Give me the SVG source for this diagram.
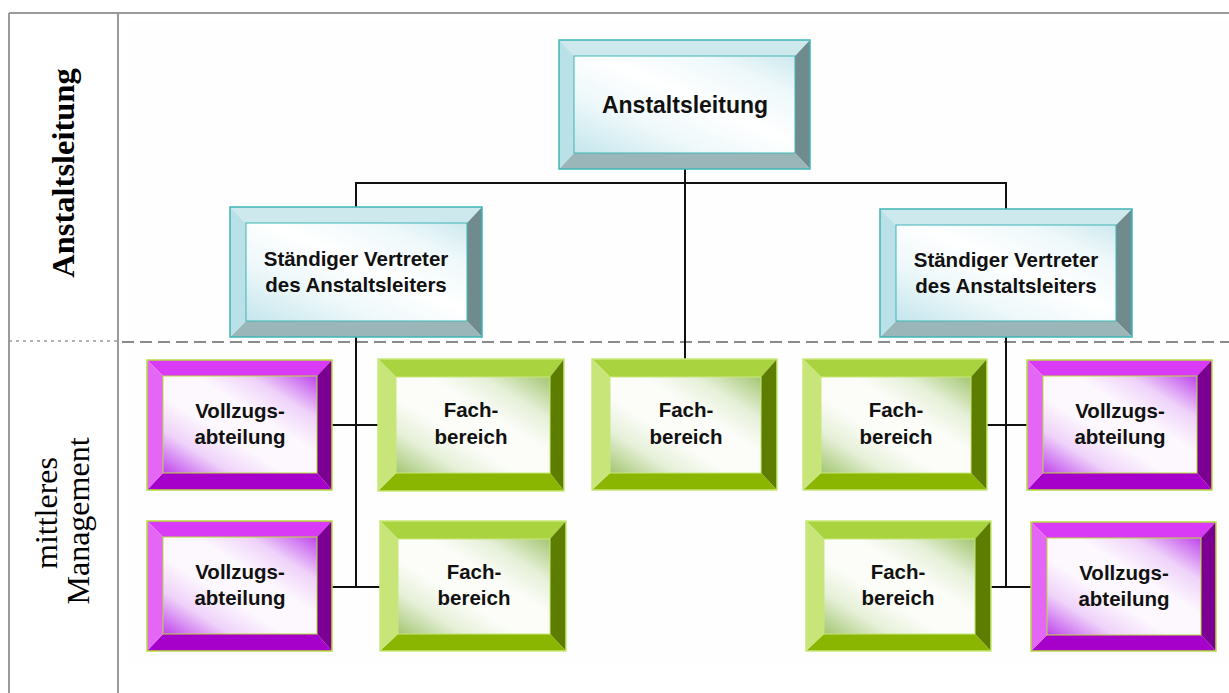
<svg xmlns="http://www.w3.org/2000/svg" width="1229" height="693" viewBox="0 0 1229 693">
  <defs>
    <style>
      .frame { stroke: #9a9a9a; stroke-width: 2; fill: none; }
      .lane-dots { stroke: #999; stroke-width: 1.5; stroke-dasharray: 3 4; fill: none; }
      .lane-dash { stroke: #8a8a8a; stroke-width: 2; stroke-dasharray: 12 6; fill: none; }
      .conn { stroke: #111; stroke-width: 2; fill: none; }
      .lane-title { font-family: "Liberation Serif", "Times New Roman", serif; fill: #000; text-anchor: middle; }
      .label { font-family: "Liberation Sans", Arial, sans-serif; font-weight: bold; font-size: 20.5px; fill: #111; text-anchor: middle; }
      .label.big { font-size: 23px; }
      /* teal (management) bevel */
      .t-top { fill: #cde9ee; } .t-left { fill: #b9e1e7; } .t-right { fill: #6f8b8e; } .t-bottom { fill: #9bb6b9; }
      .t-edge { fill: none; stroke: #3fb5b5; stroke-width: 1.5; }
      .t-face { fill: url(#faceTeal); stroke: #3fb5b5; stroke-width: 1; }
      /* purple (Vollzug) bevel */
      .p-top { fill: #d93af5; } .p-left { fill: #e466f5; } .p-right { fill: #7b0092; } .p-bottom { fill: #a600cb; }
      .p-edge { fill: none; stroke: #b8dc3c; stroke-width: 1.5; }
      .p-face { fill: url(#facePurple); stroke: #b8dc3c; stroke-width: 1; }
      /* green (Fachbereich) bevel */
      .g-top { fill: #a9d33f; } .g-left { fill: #c8e57a; } .g-right { fill: #5d7d00; } .g-bottom { fill: #8ab500; }
      .g-edge { fill: none; stroke: #c9e87a; stroke-width: 1.5; }
      .g-face { fill: url(#faceGreen); stroke: #c9e87a; stroke-width: 1; }
    </style>
    <linearGradient id="faceTeal" x1="0" y1="1" x2="1" y2="0">
      <stop offset="0" stop-color="#c4e6ed"/>
      <stop offset="0.3" stop-color="#eef8fa"/>
      <stop offset="0.55" stop-color="#ffffff"/>
      <stop offset="0.8" stop-color="#eef8fa"/>
      <stop offset="1" stop-color="#cde9ef"/>
    </linearGradient>
    <linearGradient id="facePurple" x1="0" y1="1" x2="1" y2="0">
      <stop offset="0" stop-color="#bf45ec"/>
      <stop offset="0.22" stop-color="#efd2fa"/>
      <stop offset="0.4" stop-color="#fdf8fe"/>
      <stop offset="0.6" stop-color="#fdf8fe"/>
      <stop offset="0.78" stop-color="#efd2fa"/>
      <stop offset="1" stop-color="#bf45ec"/>
    </linearGradient>
    <linearGradient id="faceGreen" x1="0" y1="1" x2="1" y2="0">
      <stop offset="0" stop-color="#a3c672"/>
      <stop offset="0.22" stop-color="#e6f0d8"/>
      <stop offset="0.4" stop-color="#fcfdf9"/>
      <stop offset="0.6" stop-color="#fcfdf9"/>
      <stop offset="0.78" stop-color="#e6f0d8"/>
      <stop offset="1" stop-color="#a3c672"/>
    </linearGradient>
  </defs>

  <rect width="1229" height="693" fill="#ffffff"/>
  <!-- chart area tint -->
  <rect x="128" y="20" width="1101" height="643" fill="#fefefe"/>

  <!-- lane frame -->
  <g id="frame">
    <line class="frame" x1="9" y1="13" x2="1229" y2="13"/>
    <line class="frame" x1="9" y1="13" x2="9" y2="693"/>
    <line class="frame" x1="118" y1="13" x2="118" y2="693"/>
    <line class="lane-dots" x1="9" y1="341" x2="118" y2="341"/>
    <line class="lane-dash" x1="122" y1="342" x2="1229" y2="342"/>
  </g>

  <g id="lane-labels">
    <text class="lane-title" font-weight="bold" font-size="32.5" transform="translate(74,173) rotate(-90)">Anstaltsleitung</text>
    <text class="lane-title" font-size="32" transform="translate(57,513) rotate(-90)">mittleres</text>
    <text class="lane-title" font-size="32" transform="translate(89,521) rotate(-90)">Management</text>
  </g>

  <!-- connectors -->
  <g id="connectors">
    <line class="conn" x1="356" y1="183" x2="1006" y2="183"/>
    <line class="conn" x1="685" y1="169" x2="685" y2="359"/>
    <line class="conn" x1="356" y1="182" x2="356" y2="207"/>
    <line class="conn" x1="1006" y1="182" x2="1006" y2="209"/>
    <line class="conn" x1="356" y1="337" x2="356" y2="588"/>
    <line class="conn" x1="332" y1="425" x2="378" y2="425"/>
    <line class="conn" x1="332" y1="587" x2="380" y2="587"/>
    <line class="conn" x1="1006" y1="337" x2="1006" y2="588"/>
    <line class="conn" x1="987" y1="425" x2="1027" y2="425"/>
    <line class="conn" x1="991" y1="587" x2="1031" y2="587"/>
  </g>

  <!-- Anstaltsleitung -->
  <g id="node-leitung">
    <polygon class="t-top" points="559,40 810,40 795,56 574,56"/>
    <polygon class="t-right" points="810,40 810,169 795,153 795,56"/>
    <polygon class="t-bottom" points="559,169 810,169 795,153 574,153"/>
    <polygon class="t-left" points="559,40 574,56 574,153 559,169"/>
    <rect class="t-face" x="574" y="56" width="221" height="97"/>
    <rect class="t-edge" x="559" y="40" width="251" height="129"/>
    <text class="label big" x="685" y="113">Anstaltsleitung</text>
  </g>

  <!-- Ständiger Vertreter, links -->
  <g id="node-vertreter-links">
    <polygon class="t-top" points="230,207 482,207 467,223 246,223"/>
    <polygon class="t-right" points="482,207 482,337 467,321 467,223"/>
    <polygon class="t-bottom" points="230,337 482,337 467,321 246,321"/>
    <polygon class="t-left" points="230,207 246,223 246,321 230,337"/>
    <rect class="t-face" x="246" y="223" width="221" height="98"/>
    <rect class="t-edge" x="230" y="207" width="252" height="130"/>
    <text class="label" x="356" y="266">Ständiger Vertreter</text>
    <text class="label" x="356" y="292">des Anstaltsleiters</text>
  </g>

  <!-- Ständiger Vertreter, rechts -->
  <g id="node-vertreter-rechts">
    <polygon class="t-top" points="880,209 1132,209 1116,225 896,225"/>
    <polygon class="t-right" points="1132,209 1132,337 1116,321 1116,225"/>
    <polygon class="t-bottom" points="880,337 1132,337 1116,321 896,321"/>
    <polygon class="t-left" points="880,209 896,225 896,321 880,337"/>
    <rect class="t-face" x="896" y="225" width="220" height="96"/>
    <rect class="t-edge" x="880" y="209" width="252" height="128"/>
    <text class="label" x="1006" y="267">Ständiger Vertreter</text>
    <text class="label" x="1006" y="293">des Anstaltsleiters</text>
  </g>

  <!-- Vollzugsabteilung, links oben -->
  <g id="node-vollzug-lo">
    <polygon class="p-top" points="147,360 332,360 317,376 163,376"/>
    <polygon class="p-right" points="332,360 332,490 317,473 317,376"/>
    <polygon class="p-bottom" points="147,490 332,490 317,473 163,473"/>
    <polygon class="p-left" points="147,360 163,376 163,473 147,490"/>
    <rect class="p-face" x="163" y="376" width="154" height="97"/>
    <rect class="p-edge" x="147" y="360" width="185" height="130"/>
    <text class="label" x="240" y="418">Vollzugs-</text>
    <text class="label" x="240" y="444">abteilung</text>
  </g>

  <!-- Fachbereich, links oben -->
  <g id="node-fach-lo">
    <polygon class="g-top" points="378,359 564,359 550,377 396,377"/>
    <polygon class="g-right" points="564,359 564,491 550,473 550,377"/>
    <polygon class="g-bottom" points="378,491 564,491 550,473 396,473"/>
    <polygon class="g-left" points="378,359 396,377 396,473 378,491"/>
    <rect class="g-face" x="396" y="377" width="154" height="96"/>
    <rect class="g-edge" x="378" y="359" width="186" height="132"/>
    <text class="label" x="471" y="417">Fach-</text>
    <text class="label" x="471" y="444">bereich</text>
  </g>

  <!-- Fachbereich, Mitte -->
  <g id="node-fach-mitte">
    <polygon class="g-top" points="592,359 777,359 761,377 610,377"/>
    <polygon class="g-right" points="777,359 777,490 761,473 761,377"/>
    <polygon class="g-bottom" points="592,490 777,490 761,473 610,473"/>
    <polygon class="g-left" points="592,359 610,377 610,473 592,490"/>
    <rect class="g-face" x="610" y="377" width="151" height="96"/>
    <rect class="g-edge" x="592" y="359" width="185" height="131"/>
    <text class="label" x="686" y="417">Fach-</text>
    <text class="label" x="686" y="444">bereich</text>
  </g>

  <!-- Fachbereich, rechts oben -->
  <g id="node-fach-ro">
    <polygon class="g-top" points="803,359 987,359 971,377 821,377"/>
    <polygon class="g-right" points="987,359 987,490 971,473 971,377"/>
    <polygon class="g-bottom" points="803,490 987,490 971,473 821,473"/>
    <polygon class="g-left" points="803,359 821,377 821,473 803,490"/>
    <rect class="g-face" x="821" y="377" width="150" height="96"/>
    <rect class="g-edge" x="803" y="359" width="184" height="131"/>
    <text class="label" x="896" y="417">Fach-</text>
    <text class="label" x="896" y="444">bereich</text>
  </g>

  <!-- Vollzugsabteilung, rechts oben -->
  <g id="node-vollzug-ro">
    <polygon class="p-top" points="1027,360 1212,360 1197,376 1043,376"/>
    <polygon class="p-right" points="1212,360 1212,490 1197,473 1197,376"/>
    <polygon class="p-bottom" points="1027,490 1212,490 1197,473 1043,473"/>
    <polygon class="p-left" points="1027,360 1043,376 1043,473 1027,490"/>
    <rect class="p-face" x="1043" y="376" width="154" height="97"/>
    <rect class="p-edge" x="1027" y="360" width="185" height="130"/>
    <text class="label" x="1120" y="418">Vollzugs-</text>
    <text class="label" x="1120" y="444">abteilung</text>
  </g>

  <!-- Vollzugsabteilung, links unten -->
  <g id="node-vollzug-lu">
    <polygon class="p-top" points="147,521 332,521 317,537 163,537"/>
    <polygon class="p-right" points="332,521 332,651 317,634 317,537"/>
    <polygon class="p-bottom" points="147,651 332,651 317,634 163,634"/>
    <polygon class="p-left" points="147,521 163,537 163,634 147,651"/>
    <rect class="p-face" x="163" y="537" width="154" height="97"/>
    <rect class="p-edge" x="147" y="521" width="185" height="130"/>
    <text class="label" x="240" y="579">Vollzugs-</text>
    <text class="label" x="240" y="605">abteilung</text>
  </g>

  <!-- Fachbereich, links unten -->
  <g id="node-fach-lu">
    <polygon class="g-top" points="380,521 566,521 550,539 398,539"/>
    <polygon class="g-right" points="566,521 566,651 550,634 550,539"/>
    <polygon class="g-bottom" points="380,651 566,651 550,634 398,634"/>
    <polygon class="g-left" points="380,521 398,539 398,634 380,651"/>
    <rect class="g-face" x="398" y="539" width="152" height="95"/>
    <rect class="g-edge" x="380" y="521" width="186" height="130"/>
    <text class="label" x="474" y="579">Fach-</text>
    <text class="label" x="474" y="605">bereich</text>
  </g>

  <!-- Fachbereich, rechts unten -->
  <g id="node-fach-ru">
    <polygon class="g-top" points="806,521 991,521 975,539 824,539"/>
    <polygon class="g-right" points="991,521 991,651 975,634 975,539"/>
    <polygon class="g-bottom" points="806,651 991,651 975,634 824,634"/>
    <polygon class="g-left" points="806,521 824,539 824,634 806,651"/>
    <rect class="g-face" x="824" y="539" width="151" height="95"/>
    <rect class="g-edge" x="806" y="521" width="185" height="130"/>
    <text class="label" x="898" y="579">Fach-</text>
    <text class="label" x="898" y="605">bereich</text>
  </g>

  <!-- Vollzugsabteilung, rechts unten -->
  <g id="node-vollzug-ru">
    <polygon class="p-top" points="1031,522 1216,522 1201,538 1047,538"/>
    <polygon class="p-right" points="1216,522 1216,651 1201,635 1201,538"/>
    <polygon class="p-bottom" points="1031,651 1216,651 1201,635 1047,635"/>
    <polygon class="p-left" points="1031,522 1047,538 1047,635 1031,651"/>
    <rect class="p-face" x="1047" y="538" width="154" height="97"/>
    <rect class="p-edge" x="1031" y="522" width="185" height="129"/>
    <text class="label" x="1124" y="580">Vollzugs-</text>
    <text class="label" x="1124" y="606">abteilung</text>
  </g>
</svg>
